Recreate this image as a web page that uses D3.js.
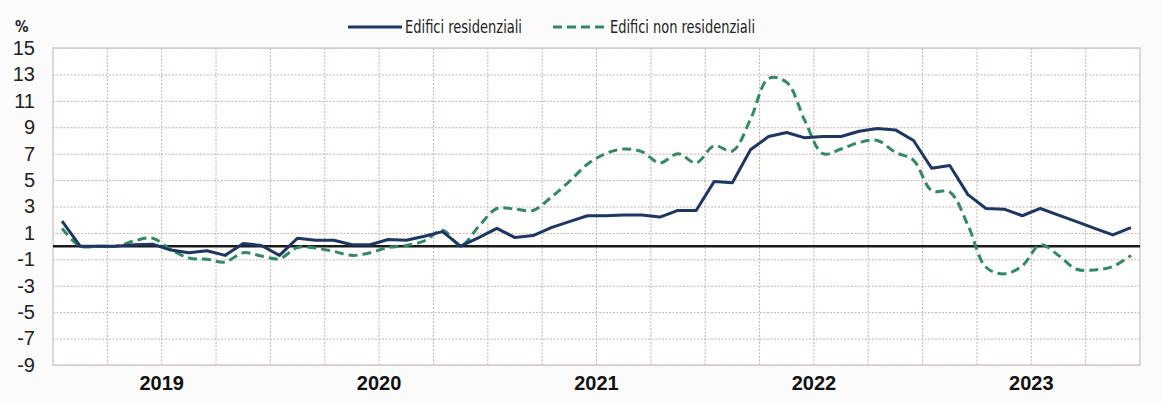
<!DOCTYPE html>
<html>
<head>
<meta charset="utf-8">
<script src="https://cdn.jsdelivr.net/npm/d3@7"></script>
<style>
  body { margin: 0; background: #fbfbfb; }
  svg { display: block; font-family: "Liberation Sans Narrow", "Arial Narrow", "DejaVu Sans Condensed", sans-serif; }
  .grid line { stroke: #c6b2aa; stroke-width: 1; stroke-dasharray: 2,1.5; }
  .grid path { display: none; }
</style>
</head>
<body>
<div id="chart"></div>
<script>
const years = ["2019", "2020", "2021", "2022", "2023"];
const yTicks = [-9, -7, -5, -3, -1, 1, 3, 5, 7, 9, 11, 13, 15];
const seriesNames = ["Edifici residenziali", "Edifici non residenziali"];

// monthly values, jan 2019 - dec 2023
const residenziali = [
  1.9, 0, 0, 0, 0.1, 0.15, -0.3, -0.5, -0.35, -0.7, 0.2, 0.05,
  -0.7, 0.6, 0.45, 0.45, 0.1, 0.1, 0.5, 0.45, 0.75, 1.1, 0.0, 0.65,
  1.35, 0.65, 0.8, 1.4, 1.85, 2.3, 2.3, 2.35, 2.35, 2.2, 2.7, 2.7,
  4.9, 4.8, 7.3, 8.3, 8.6, 8.2, 8.3, 8.3, 8.7, 8.9, 8.8, 8.0,
  5.9, 6.1, 3.9, 2.85, 2.8, 2.3, 2.85, 2.35, 1.85, 1.35, 0.85, 1.4
];
const nonResidenziali = [
  1.35, 0, 0, 0, 0.4, 0.6, -0.25, -0.9, -1.0, -1.2, -0.5, -0.75,
  -0.95, -0.1, -0.15, -0.4, -0.7, -0.5, -0.1, 0.05, 0.4, 1.2, 0.05, 1.5,
  2.85, 2.8, 2.7, 3.7, 4.9, 6.2, 7.0, 7.35, 7.15, 6.3, 7.0, 6.3,
  7.6, 7.2, 9.6, 12.7, 12.4, 9.5, 7.0, 7.35, 7.85, 8.0, 7.1, 6.5,
  4.2, 4.1, 1.6, -1.6, -2.1, -1.5, 0.1, -0.7, -1.75, -1.8, -1.55, -0.7
];

const months = years.flatMap(y => d3.range(1, 13).map(m => y + "-" + m));

const width = 1162, height = 403;
const margin = { top: 48, right: 22, bottom: 38, left: 53 };
const innerW = width - margin.left - margin.right;
const innerH = height - margin.top - margin.bottom;

const svg = d3.select("#chart").append("svg")
  .attr("width", width).attr("height", height);

const g = svg.append("g").attr("transform", `translate(${margin.left},${margin.top})`);

const x = d3.scaleBand().domain(months).range([0, innerW]).padding(0);
const xYear = d3.scaleBand().domain(years).range([0, innerW]);
const y = d3.scaleLinear().domain([-9, 15]).range([innerH, 0]);

g.append("rect").attr("width", innerW).attr("height", innerH).attr("fill", "#fff");

// horizontal grid
g.append("g").attr("class", "grid")
  .call(d3.axisLeft(y).tickValues(yTicks).tickSize(-innerW).tickFormat(""));

// vertical grid at quarters
const quarterStarts = months.filter((m, i) => i % 3 === 0).slice(1);
g.append("g").attr("class", "grid")
  .selectAll("line").data(quarterStarts).join("line")
  .attr("x1", d => x(d)).attr("x2", d => x(d))
  .attr("y1", 0).attr("y2", innerH);

// border
g.append("rect").attr("width", innerW).attr("height", innerH)
  .attr("fill", "none").attr("stroke", "#d6ccc8").attr("stroke-width", 1.5);

// y labels (plain hyphen as minus, like the original)
const yAxis = g.append("g")
  .call(d3.axisLeft(y).tickValues(yTicks).tickSize(0).tickPadding(18)
    .tickFormat(d => String(d)));
yAxis.select(".domain").remove();
yAxis.selectAll("text").attr("font-size", 20).attr("fill", "#222")
  .attr("font-family", "inherit");

svg.append("text").attr("x", 15).attr("y", 32).text("%")
  .attr("font-size", 15).attr("font-weight", "bold").attr("fill", "#222");

// year labels
const xAxis = g.append("g").attr("transform", `translate(0,${innerH})`)
  .call(d3.axisBottom(xYear).tickSize(0).tickPadding(11));
xAxis.select(".domain").remove();
xAxis.selectAll("text").attr("font-size", 20).attr("font-weight", "bold")
  .attr("fill", "#111").attr("font-family", "inherit");

// zero line
g.append("line").attr("x1", 0).attr("x2", innerW)
  .attr("y1", y(0)).attr("y2", y(0))
  .attr("stroke", "#1a1a1a").attr("stroke-width", 2.5);

const cx = (d, i) => x(months[i]) + x.bandwidth() / 2;

g.append("path").datum(nonResidenziali)
  .attr("fill", "none").attr("stroke", "#2e8b62").attr("stroke-width", 3)
  .attr("stroke-dasharray", "9,5")
  .attr("d", d3.line().x(cx).y(d => y(d)).curve(d3.curveCatmullRom.alpha(0.5)));

g.append("path").datum(residenziali)
  .attr("fill", "none").attr("stroke", "#1c3764").attr("stroke-width", 3)
  .attr("stroke-linejoin", "round")
  .attr("d", d3.line().x(cx).y(d => y(d)));

// legend
const legend = svg.append("g");
const items = [
  { name: seriesNames[0], color: "#1c3764", dash: null, x: 348, w: 117 },
  { name: seriesNames[1], color: "#2e8b62", dash: "9,5", x: 553, w: 145 }
];
items.forEach(it => {
  legend.append("line").attr("x1", it.x).attr("x2", it.x + 54)
    .attr("y1", 27).attr("y2", 27)
    .attr("stroke", it.color).attr("stroke-width", 3)
    .attr("stroke-dasharray", it.dash);
  legend.append("text").attr("x", it.x + 57).attr("y", 33)
    .attr("font-size", 17).attr("fill", "#222")
    .attr("textLength", it.w).attr("lengthAdjust", "spacingAndGlyphs")
    .text(it.name);
});
</script>
</body>
</html>
